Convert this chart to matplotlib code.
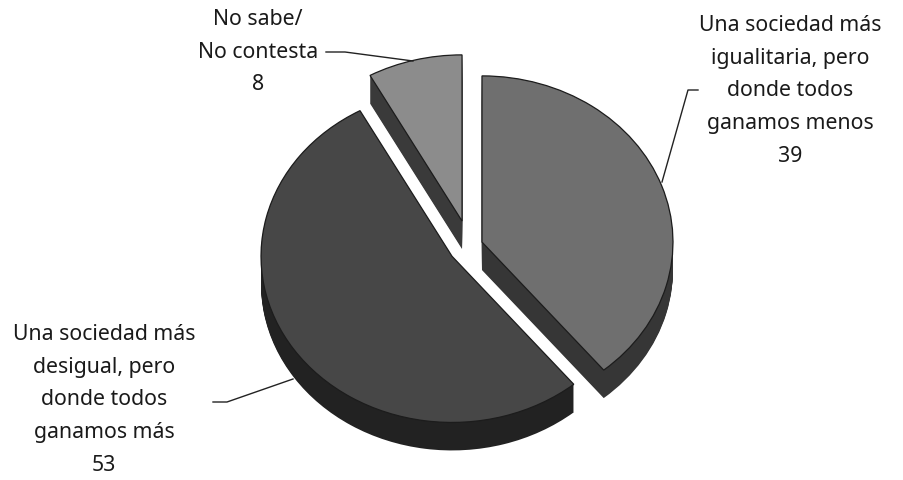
import matplotlib
matplotlib.use('Agg')
import matplotlib.pyplot as plt
from matplotlib.transforms import Affine2D

labels = ['Una sociedad más\nigualitaria, pero\ndonde todos\nganamos menos\n39',
          'Una sociedad más\ndesigual, pero\ndonde todos\nganamos más\n53',
          'No sabe/\nNo contesta\n8']
values = [39, 53, 8]
top_colors = ['#6f6f6f', '#474747', '#8c8c8c']
side_colors = ['#363636', '#222222', '#3a3a3a']
explode = [0.07, 0.11, 0.155]

RX = 191.0
SQUASH = 0.87
DEPTH = 28
CX, CY = 469.4, 247

fig = plt.figure(figsize=(9.04, 4.81), dpi=100)
ax = fig.add_axes([0, 0, 1, 1])


def draw_pie(dy, colors, z, edge):
    # pie in unit radius, then squashed and moved to pixel position
    wedges, _ = ax.pie(values, colors=colors, startangle=90, counterclock=False,
                       explode=explode, radius=1.0, center=(0, 0),
                       wedgeprops=dict(linewidth=0.9, edgecolor=edge))
    tr = Affine2D().scale(RX, -RX * SQUASH).translate(CX, CY + dy) + ax.transData
    for w in wedges:
        w.set_transform(tr)
        w.set_zorder(z)
        w.set_clip_on(False)


# stack of copies gives the side wall
for d in range(DEPTH, 0, -1):
    draw_pie(d, side_colors, 2 + (DEPTH - d) * 0.01, 'none')
draw_pie(0, top_colors, 3, '#1c1c1c')

ax.set_aspect('auto')
ax.set_xlim(0, 904)
ax.set_ylim(481, 0)
ax.axis('off')

font = dict(family='Noto Sans', fontsize=15.3, color='#1a1a1a', ha='center',
            va='center', linespacing=1.72)
ax.text(790, 91, labels[0], **font)
ax.text(104, 400, labels[1], **font)
ax.text(258, 52, labels[2], **font)

ax.plot([662, 688, 698], [183, 91, 91], color='#222222', lw=1, zorder=4)
ax.plot([213, 227, 293], [403, 403, 380], color='#222222', lw=1, zorder=4)
ax.plot([326, 345, 413], [53, 53, 62], color='#222222', lw=1, zorder=4)

fig.savefig('out.png', dpi=100)
